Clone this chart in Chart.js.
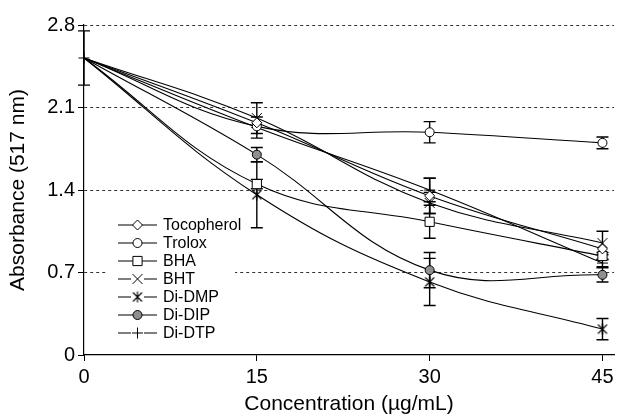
<!DOCTYPE html>
<html>
<head>
<meta charset="utf-8">
<script src="https://cdn.jsdelivr.net/npm/chart.js@4/dist/chart.umd.min.js"></script>
<style>
  body { margin: 0; background: #fff; }
  #wrap { width: 622px; height: 420px; position: relative; }
</style>
</head>
<body>
<div id="wrap"><canvas id="absChart"></canvas></div>
<script>
// Data
const concentrations = [0, 15, 30, 45];
const xTicks = [0, 15, 30, 45];
const yTicks = [0, 0.7, 1.4, 2.1, 2.8];

const seriesNames = ['Tocopherol', 'Trolox', 'BHA', 'BHT', 'Di-DMP', 'Di-DIP', 'Di-DTP'];

const tocopherol = [2.52, 1.97, 1.35, 0.90];
const trolox     = [2.52, 1.94, 1.89, 1.80];
const bha        = [2.52, 1.45, 1.13, 0.84];
const bht        = [2.52, 2.01, 1.29, 0.95];
const diDMP      = [2.52, 1.36, 0.62, 0.22];
const diDIP      = [2.52, 1.70, 0.72, 0.68];
const diDTP      = [2.52, 1.93, 1.40, 0.78];

// standard deviations (error bars)
const tocopherolErr = [0, 0, 0.15, 0];
const troloxErr     = [0, 0, 0.09, 0.05];
const bhaErr        = [0, 0.04, 0.14, 0.03];
const bhtErr        = [0, 0.13, 0.09, 0.10];
const diDMPErr      = [0, 0.28, 0.20, 0.09];
const diDIPErr      = [0, 0.06, 0.15, 0.06];
const diDTPErr      = [0.23, 0.09, 0.10, 0.03];

// Asterisk marker (x with a vertical bar) for Di-DMP
function makeAsterisk() {
    const c = document.createElement('canvas');
    c.width = 12; c.height = 12;
    const g = c.getContext('2d');
    g.strokeStyle = '#000';
    g.lineWidth = 1.1;
    g.beginPath();
    g.moveTo(1.5, 1.5); g.lineTo(10.5, 10.5);
    g.moveTo(10.5, 1.5); g.lineTo(1.5, 10.5);
    g.moveTo(6, 0.5); g.lineTo(6, 11.5);
    g.stroke();
    return c;
}
const asterisk = makeAsterisk();

const styles = [
    { pointStyle: 'rectRot', radius: 5, fill: '#fff', gap: false },
    { pointStyle: 'circle', radius: 4.5, fill: '#fff', gap: false },
    { pointStyle: 'rect', radius: 6.5, fill: '#fff', gap: false },
    { pointStyle: 'crossRot', radius: 7, fill: '#fff', gap: true },
    { pointStyle: asterisk, radius: 6, fill: '#fff', gap: true },
    { pointStyle: 'circle', radius: 4.5, fill: '#8f8f8f', gap: false },
    { pointStyle: 'cross', radius: 5.5, fill: '#fff', gap: true }
];

const values = [tocopherol, trolox, bha, bht, diDMP, diDIP, diDTP];
const errors = [tocopherolErr, troloxErr, bhaErr, bhtErr, diDMPErr, diDIPErr, diDTPErr];

const datasets = seriesNames.map((name, i) => ({
    label: name,
    data: concentrations.map((x, j) => ({ x: x, y: values[i][j] })),
    errors: errors[i],
    borderColor: '#000',
    borderWidth: 1.1,
    backgroundColor: styles[i].fill,
    pointBorderColor: '#000',
    pointBorderWidth: 1,
    pointBackgroundColor: styles[i].fill,
    pointStyle: styles[i].pointStyle,
    // only the Di-DTP marker is visible at the origin
    pointRadius: concentrations.map((x, j) => (j === 0 && i !== 6) ? 0 : styles[i].radius),
    pointHoverRadius: styles[i].radius,
    tension: 0.4,
    clip: false
}));

const FONT = '"Liberation Sans", Arial, Helvetica, sans-serif';

// Error bars, drawn before the series so markers sit on top
const errorBars = {
    id: 'errorBars',
    beforeDatasetsDraw(chart) {
        const { ctx, scales: { x, y } } = chart;
        ctx.save();
        ctx.strokeStyle = '#000';
        ctx.lineWidth = 1.4;
        chart.data.datasets.forEach(ds => {
            ds.data.forEach((p, j) => {
                const e = ds.errors[j];
                if (!e) return;
                const px = x.getPixelForValue(p.x);
                const top = y.getPixelForValue(p.y + e);
                const bot = y.getPixelForValue(p.y - e);
                ctx.beginPath();
                ctx.moveTo(px, top); ctx.lineTo(px, bot);
                ctx.moveTo(px - 6, top); ctx.lineTo(px + 6, top);
                ctx.moveTo(px - 6, bot); ctx.lineTo(px + 6, bot);
                ctx.stroke();
            });
        });
        ctx.restore();
    }
};

// Legend inside the plot, lower left
const innerLegend = {
    id: 'innerLegend',
    afterDraw(chart) {
        const ctx = chart.ctx;
        ctx.save();
        ctx.fillStyle = '#fff';
        ctx.fillRect(108, 216, 127, 126);
        ctx.font = '16px ' + FONT;
        ctx.textBaseline = 'middle';
        chart.data.datasets.forEach((ds, i) => {
            const yy = 225 + i * 18;
            ctx.strokeStyle = '#000';
            ctx.lineWidth = 1.1;
            ctx.beginPath();
            if (styles[i].gap) {
                ctx.moveTo(118, yy); ctx.lineTo(131, yy);
                ctx.moveTo(144, yy); ctx.lineTo(157, yy);
            } else {
                ctx.moveTo(118, yy); ctx.lineTo(157, yy);
            }
            ctx.stroke();
            ctx.fillStyle = styles[i].fill;
            ctx.strokeStyle = '#000';
            ctx.lineWidth = 1;
            Chart.helpers.drawPoint(ctx, {
                pointStyle: ds.pointStyle, radius: styles[i].radius, rotation: 0, borderWidth: 1
            }, 137.5, yy);
            ctx.fillStyle = '#000';
            ctx.fillText(ds.label, 163, yy + 1);
        });
        ctx.restore();
    }
};

new Chart(document.getElementById('absChart'), {
    type: 'line',
    data: { datasets: datasets },
    options: {
        responsive: true,
        maintainAspectRatio: false,
        animation: false,
        layout: { padding: { top: 25, right: 4, bottom: 0, left: 0 } },
        plugins: {
            legend: { display: false },
            tooltip: { enabled: false }
        },
        scales: {
            x: {
                type: 'linear',
                min: 0,
                max: 46,
                afterBuildTicks: s => { s.ticks = xTicks.map(v => ({ value: v })); },
                afterFit: s => { s.height = 65; },
                grid: { drawOnChartArea: false, drawTicks: true, tickLength: 6, color: '#000', tickColor: '#000' },
                border: { display: true, color: '#000', width: 1.2 },
                ticks: { color: '#000', font: { family: FONT, size: 20 }, padding: 4, maxRotation: 0 },
                title: {
                    display: true, text: 'Concentration (µg/mL)', color: '#000',
                    font: { family: FONT, size: 21 }, padding: { top: 0, bottom: 3 }
                }
            },
            y: {
                min: 0,
                max: 2.8,
                afterBuildTicks: s => { s.ticks = yTicks.map(v => ({ value: v })); },
                afterFit: s => { s.width = 84; },
                grid: {
                    drawTicks: true, tickLength: 6,
                    color: c => c.tick && c.tick.value === 0 ? 'rgba(0,0,0,0)' : '#333',
                    lineWidth: 1,
                    tickColor: '#000',
                    tickBorderDash: [1, 0]
                },
                border: { display: true, color: '#000', width: 1.2, dash: [3, 3] },
                ticks: {
                    color: '#000', font: { family: FONT, size: 20 }, padding: 3,
                    callback: v => String(v)
                },
                title: {
                    display: true, text: 'Absorbance (517 nm)', color: '#000',
                    font: { family: FONT, size: 21 }, padding: { top: 6, bottom: 0 }
                }
            }
        }
    },
    plugins: [errorBars, innerLegend]
});
</script>
</body>
</html>
